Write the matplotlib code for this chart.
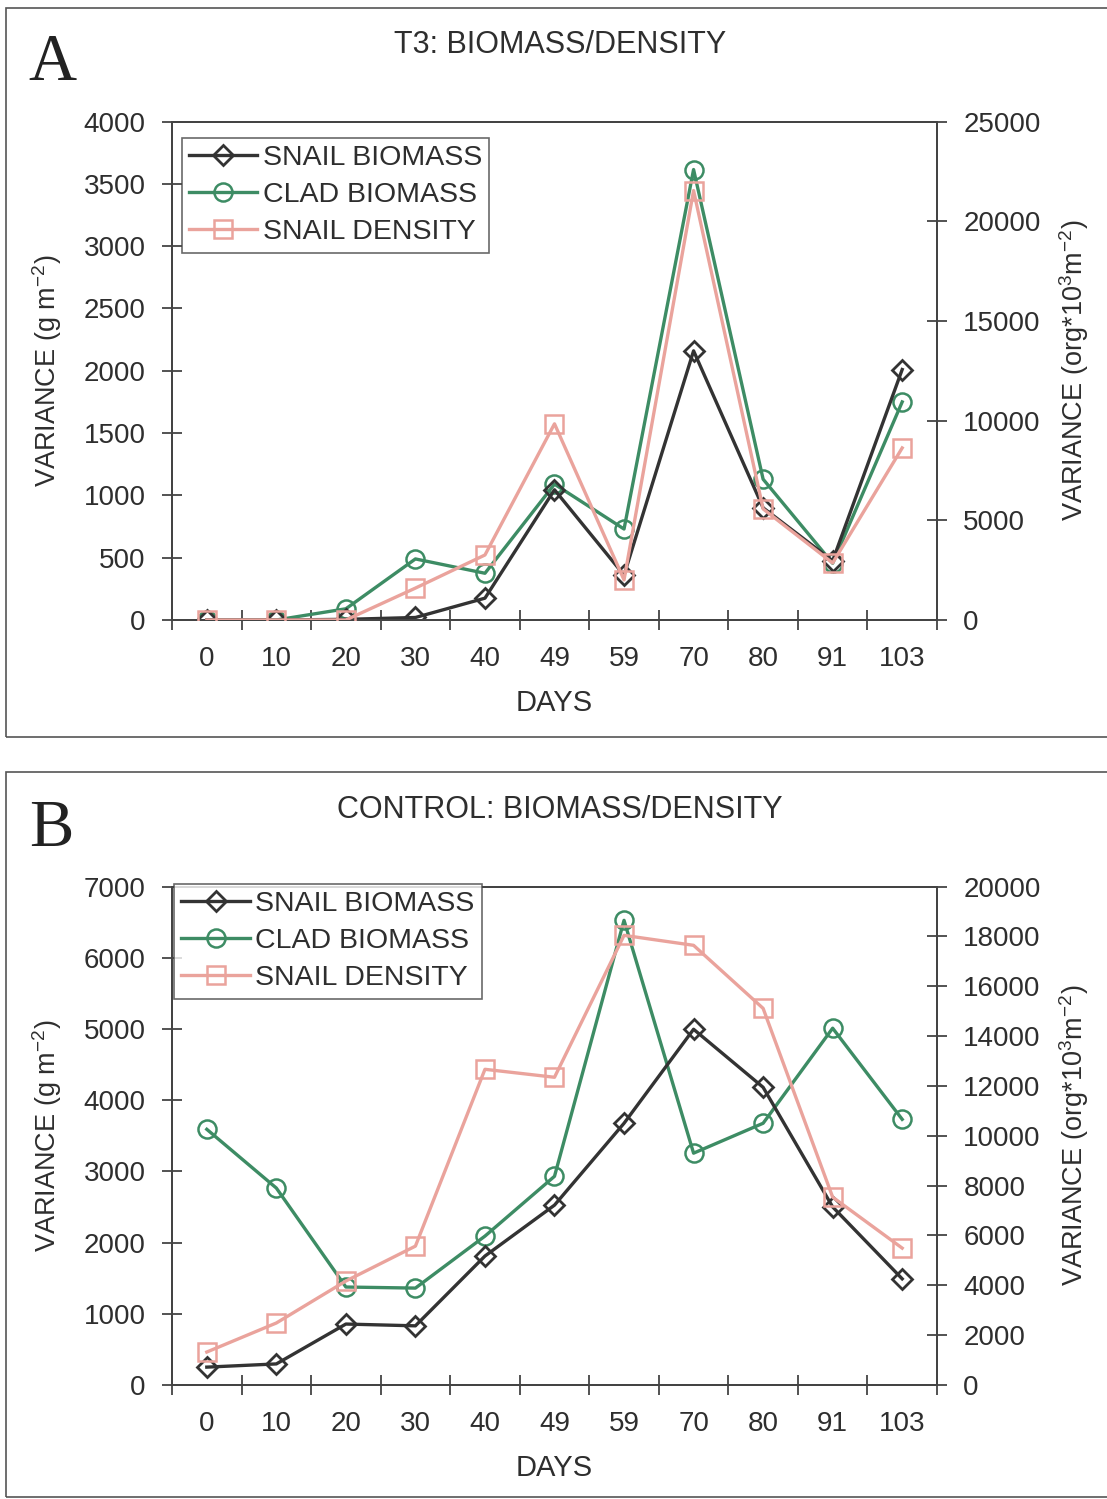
import matplotlib
matplotlib.use("Agg")
import matplotlib.pyplot as plt
from matplotlib.patches import Rectangle
from matplotlib.lines import Line2D

plt.rcParams['font.family'] = ['Liberation Sans', 'DejaVu Sans']
plt.rcParams['mathtext.default'] = 'regular'

days = ["0", "10", "20", "30", "40", "49", "59", "70", "80", "91", "103"]

# panel A - T3
t3_snail_biomass = [0, 0, 5, 20, 175, 1045, 360, 2160, 900, 475, 2010]
t3_clad_biomass = [0, 0, 90, 490, 375, 1090, 730, 3615, 1130, 455, 1750]
t3_snail_density = [0, 0, 0, 1600, 3260, 9840, 2010, 21540, 5570, 2860, 8630]

# panel B - control
ct_snail_biomass = [250, 295, 855, 830, 1810, 2525, 3675, 4995, 4180, 2500, 1490]
ct_clad_biomass = [3590, 2765, 1375, 1360, 2090, 2930, 6525, 3255, 3675, 5010, 3730]
ct_snail_density = [1320, 2485, 4170, 5570, 12665, 12345, 18040, 17640, 15110, 7535, 5490]

BLACK = "#333333"
GREEN = "#3d8c64"
PINK = "#eaa39c"
TXT = "#2e2e2e"
FS = 20

fig = plt.figure(figsize=(11.07, 14.99), dpi=100)


def panel(bottom, letter, title, sb, cb, sd, left_max, left_step, right_max, right_step,
          leg_anchor, frame_y, frame_h, title_y, letter_y):
    # outer frame
    fig.patches.append(Rectangle((0.005, frame_y), 1.2, frame_h, transform=fig.transFigure,
                                 fill=False, edgecolor="#555555", linewidth=1.2))
    fig.text(0.026, letter_y, letter, family="Liberation Serif", fontsize=48,
             color="#222222", va="center", ha="left")
    fig.text(0.506, title_y, title, fontsize=22, color=TXT, ha="center", va="center")

    ax = fig.add_axes([0.1554, bottom, 0.691, 0.3325])
    ax2 = ax.twinx()
    x = list(range(len(days)))

    ax.plot(x, sb, color=BLACK, lw=2.4, marker="D", ms=10, mfc="none", mew=2, zorder=4)
    ax.plot(x, cb, color=GREEN, lw=2.4, marker="o", ms=13, mfc="none", mew=1.8, zorder=3)
    ax2.plot(x, sd, color=PINK, lw=2.4, marker="s", ms=13, mfc="none", mew=1.8, zorder=3)

    ax.set_xlim(-0.5, len(days) - 0.5)
    ax.set_ylim(0, left_max)
    ax2.set_ylim(0, right_max)
    ax.set_yticks(range(0, left_max + 1, left_step))
    ax2.set_yticks(range(0, right_max + 1, right_step))
    ax.set_xticks([i - 0.5 for i in range(len(days) + 1)])
    ax.set_xticklabels([])
    ax.set_xticks(x, minor=True)
    ax.set_xticklabels(days, minor=True)
    ax.tick_params(axis="x", which="minor", length=0, pad=19, labelsize=FS, labelcolor=TXT)
    ax.tick_params(axis="x", which="major", direction="inout", length=14, width=1.3, color="#444444")
    ax.tick_params(axis="y", direction="inout", length=14, width=1.3, color="#444444",
                   labelsize=FS, labelcolor=TXT, pad=12)
    ax2.tick_params(axis="y", direction="inout", length=14, width=1.3, color="#444444",
                    labelsize=FS, labelcolor=TXT, pad=12)
    for a in (ax, ax2):
        for s in a.spines.values():
            s.set_color("#444444")
            s.set_linewidth(1.4)

    ax.set_xlabel("DAYS", fontsize=21, color=TXT, labelpad=12)
    ax.set_ylabel("VARIANCE (g m$^{-2}$)", fontsize=19.5, color=TXT, labelpad=14)
    ax2.set_ylabel("VARIANCE (org*10$^{3}$m$^{-2}$)", fontsize=19.5, color=TXT, labelpad=12)

    handles = [
        Line2D([], [], color=BLACK, lw=2.4, marker="D", ms=10, mfc="none", mew=2),
        Line2D([], [], color=GREEN, lw=2.4, marker="o", ms=13, mfc="none", mew=1.8),
        Line2D([], [], color=PINK, lw=2.4, marker="s", ms=13, mfc="none", mew=1.8),
    ]
    leg = ax2.legend(handles, ["SNAIL BIOMASS", "CLAD BIOMASS", "SNAIL DENSITY"],
                     loc="upper left", bbox_to_anchor=leg_anchor, fontsize=20.5,
                     frameon=True, fancybox=False, handlelength=2.4, handletextpad=0.2,
                     labelspacing=0.4, borderpad=0.25, borderaxespad=0)
    leg.get_frame().set_edgecolor("#444444")
    leg.get_frame().set_linewidth(1.2)
    for t in leg.get_texts():
        t.set_color(TXT)
    return ax


panel(0.5864, "A", "T3: BIOMASS/DENSITY", t3_snail_biomass, t3_clad_biomass, t3_snail_density,
      4000, 500, 25000, 5000, (0.013, 0.968), 1 - 737 / 1499, (737 - 8) / 1499,
      1 - 45 / 1499, 1 - 64 / 1499)
panel(0.0761, "B", "CONTROL: BIOMASS/DENSITY", ct_snail_biomass, ct_clad_biomass, ct_snail_density,
      7000, 1000, 20000, 2000, (0.003, 1.006), 1 - 1497 / 1499, (1497 - 772) / 1499,
      1 - 810 / 1499, 1 - 829 / 1499)

fig.savefig("out.png", dpi=100, facecolor="white")
